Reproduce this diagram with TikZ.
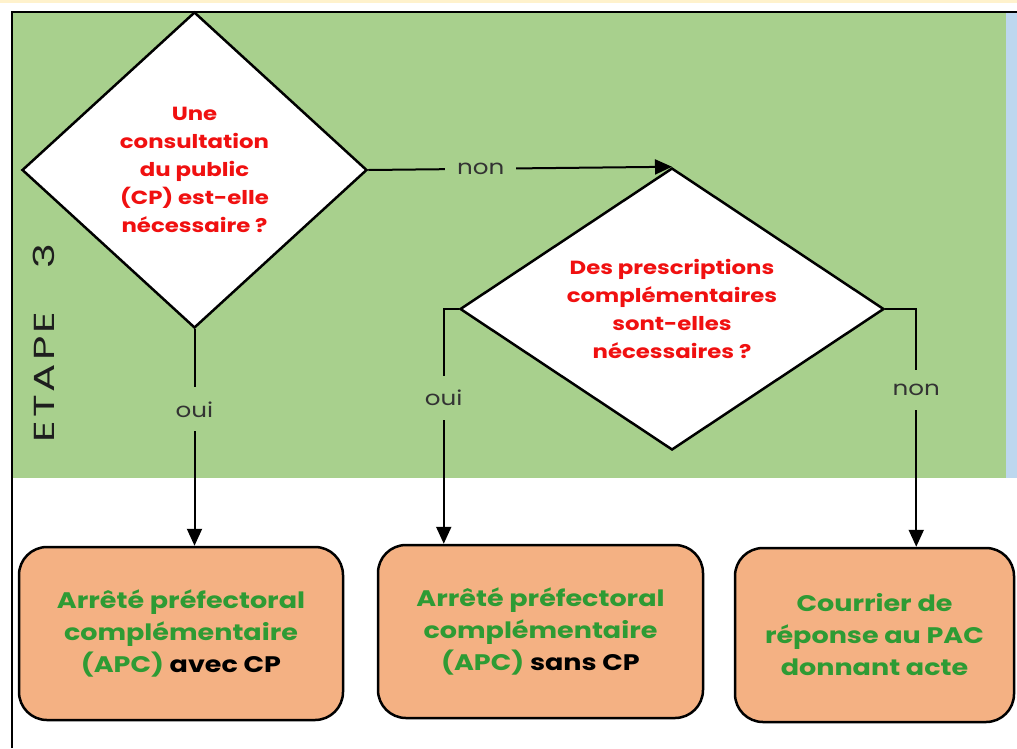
\documentclass[tikz,border=0pt]{standalone}
\usepackage{fontspec}
\setmainfont{Poppins}[FakeStretch=1.2]
\newfontfamily\stagefont{Poppins}[FakeStretch=1.45, LetterSpace=10]
\usetikzlibrary{shapes.geometric,arrows.meta}

\definecolor{stagegreen}{HTML}{A8D08D}
\definecolor{stageblue}{HTML}{BDD7EE}
\definecolor{topband}{HTML}{FFF2CC}
\definecolor{boxorange}{HTML}{F4B183}
\definecolor{actgreen}{HTML}{2E9B34}
\definecolor{askred}{HTML}{F01010}
\definecolor{labelgray}{HTML}{333333}
\definecolor{stagetext}{HTML}{1E1E1E}

\tikzset{
  decision/.style={diamond, draw=black, line width=2.5pt, fill=white, inner sep=0pt,
    align=center, text=askred, font=\bfseries\fontsize{19}{28}\selectfont},
  outcome/.style={draw=black, line width=2.5pt, fill=boxorange, rounded corners=28pt,
    align=center, text=actgreen, font=\bfseries\fontsize{22.5}{32}\selectfont},
  flow/.style={draw=black, line width=2pt, -{Triangle[length=17pt,width=15pt]}},
  lbl/.style={fill=stagegreen, text=labelgray, inner xsep=12pt, inner ysep=14pt,
    font=\fontsize{20.5}{22}\selectfont},
}

\begin{document}
\begin{tikzpicture}[x=1pt,y=-1pt]
  \useasboundingbox (0,0) rectangle (1017,748);
  \fill[white] (0,0) rectangle (1017,748);
  \fill[topband] (0,0) rectangle (1017,3);

  % stage band
  \fill[stagegreen] (12,12) rectangle (1006,478);
  \fill[stageblue] (1006,12) rectangle (1017,478);
  \draw[line width=2pt] (12,748) -- (12,12) -- (1017,12);

  \node[rotate=90, text=stagetext, font=\stagefont\fontsize{29}{30}\selectfont] (stage) at (44,343)
    {ETAPE\hspace{1.5em}3};

  % decisions
  \node[decision, minimum width=345pt, minimum height=316pt] (d1) at (194.5,170)
    {Une\\consultation\\du public\\(CP) est-elle\\nécessaire ?};
  \node[decision, aspect=1.5, minimum width=424pt, minimum height=282pt] (d2) at (672,309)
    {Des prescriptions\\complémentaires\\sont-elles\\nécessaires ?};

  % outcomes
  \node[outcome, minimum width=324pt, minimum height=173pt] (b1) at (181,633.5)
    {Arrêté préfectoral\\complémentaire\\(APC) \textcolor{black}{avec CP}};
  \node[outcome, minimum width=325pt, minimum height=173pt] (b2) at (540.5,631.5)
    {Arrêté préfectoral\\complémentaire\\(APC) \textcolor{black}{sans CP}};
  \node[outcome, minimum width=279pt, minimum height=174pt] (b3) at (874.5,635)
    {Courrier de\\réponse au PAC\\donnant acte};

  % connectors
  \draw[flow] (d1.east) -- (d2.north) node[lbl, pos=0.37] {non};
  \draw[flow] (d1.south) -- (d1.south |- b1.north) node[lbl, pos=0.37] {oui};
  \draw[flow] (d2.west) -- ++(-15,0) coordinate (j2) -- (j2 |- b2.north)
    node[lbl, pos=0.38] {oui};
  \draw[flow] (d2.east) -- ++(31,0) coordinate (j3) -- (j3 |- b3.north)
    node[lbl, pos=0.34] {non};
\end{tikzpicture}
\end{document}
